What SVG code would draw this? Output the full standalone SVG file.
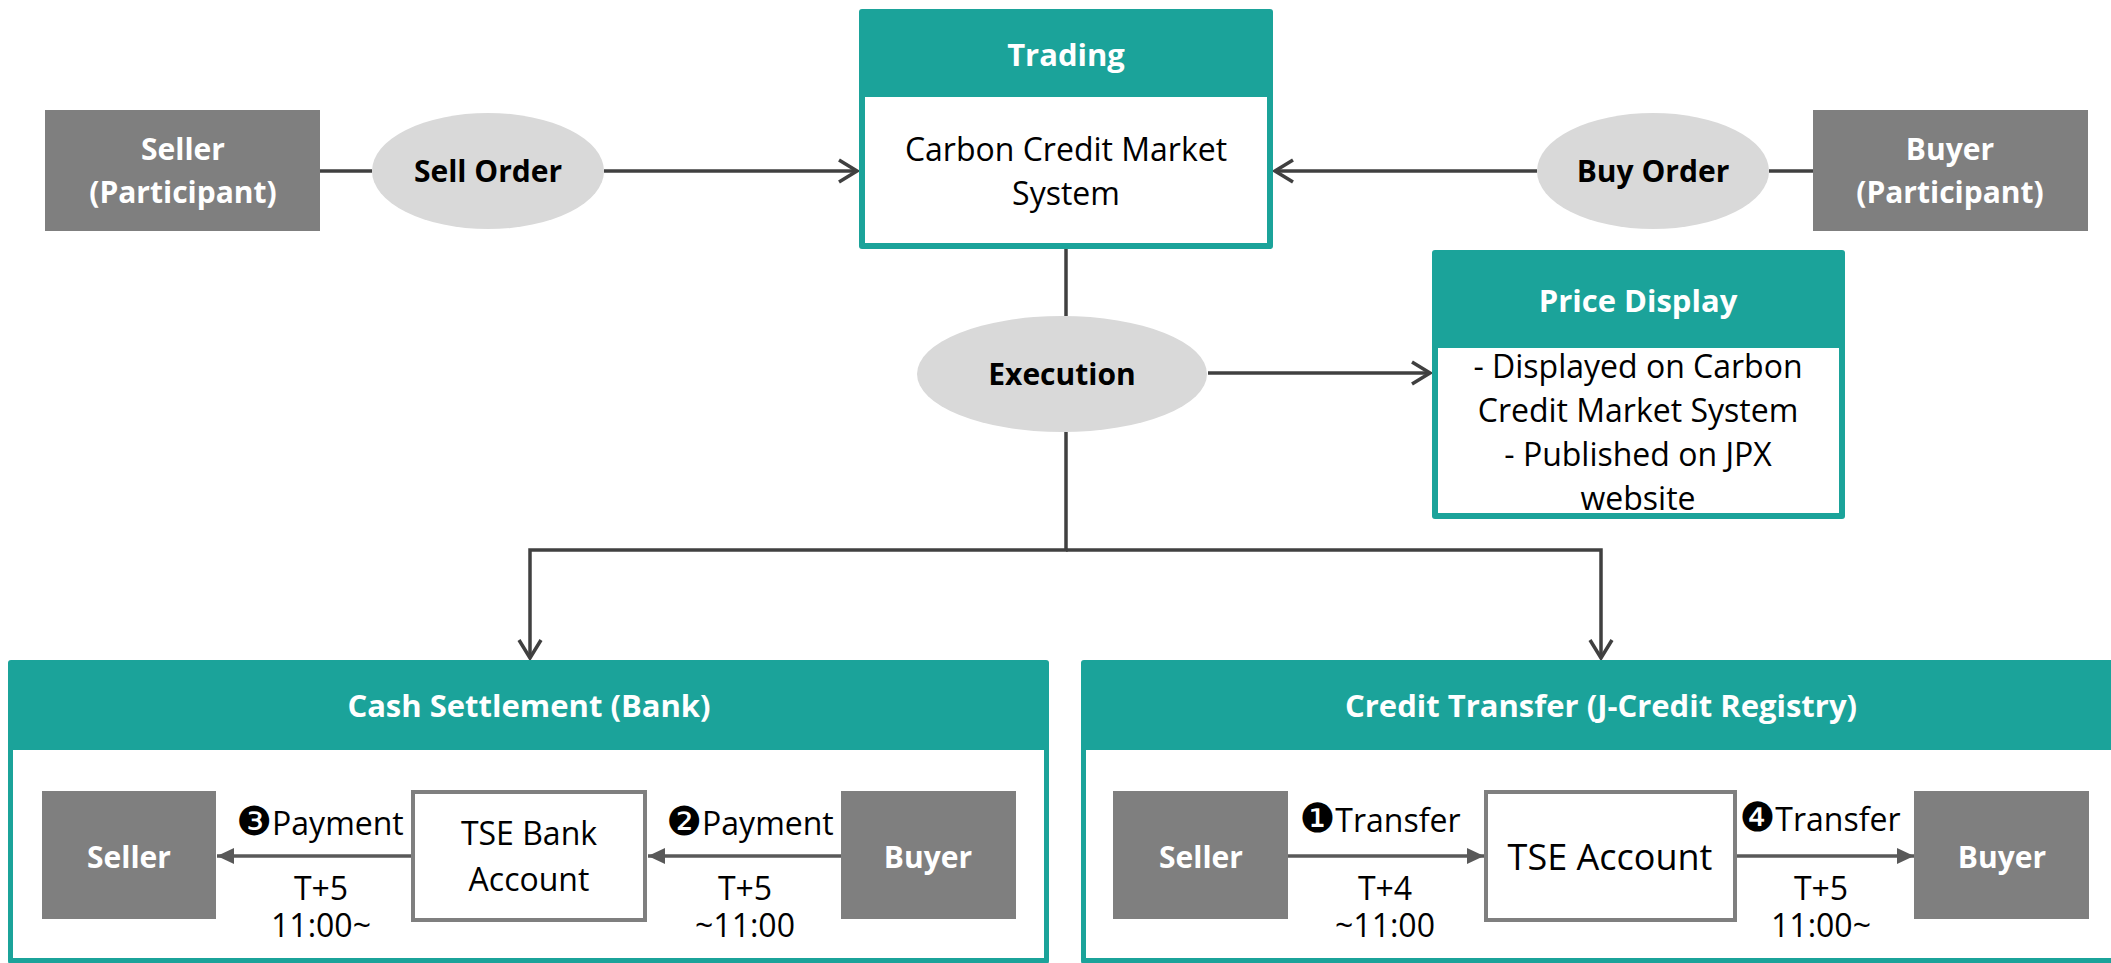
<svg xmlns="http://www.w3.org/2000/svg" width="2111" height="963" viewBox="0 0 2111 963">
<defs>
<style>
text{font-family:"Open Sans","Noto Sans","Liberation Sans",sans-serif;text-anchor:middle}
.b{font-weight:bold;font-size:30px}
.hw{font-weight:bold;font-size:31px;fill:#ffffff}
.w{fill:#ffffff}
.r{font-size:32px;fill:#000000}
.k{fill:#000000}
.teal{fill:#1ba39a}
.inner{fill:#ffffff}
.gbox{fill:#7f7f7f}
.ell{fill:#d9d9d9}
.acct{fill:#ffffff;stroke:#7f7f7f;stroke-width:4}
.con{fill:none;stroke:#404040;stroke-width:3.5}
.sub{fill:none;stroke:#595959;stroke-width:3.5}
.num{font-family:"DejaVu Sans",sans-serif;font-size:40px}
</style>
<marker id="open" markerUnits="userSpaceOnUse" markerWidth="24" markerHeight="26" viewBox="0 0 24 26" refX="21" refY="13" orient="auto">
<path d="M3,2 L21,13 L3,24" fill="none" stroke="#404040" stroke-width="3.5"/>
</marker>
<marker id="tri" markerUnits="userSpaceOnUse" markerWidth="18" markerHeight="18" viewBox="0 0 18 18" refX="17" refY="9" orient="auto">
<path d="M0,1 L17,9 L0,17 Z" fill="#595959"/>
</marker>
</defs>

<g id="connectors">
<line class="con" x1="320" y1="171" x2="372" y2="171"/>
<line class="con" x1="604" y1="171" x2="857" y2="171" marker-end="url(#open)"/>
<line class="con" x1="1813" y1="171" x2="1769" y2="171"/>
<line class="con" x1="1537" y1="171" x2="1275" y2="171" marker-end="url(#open)"/>
<line class="con" x1="1066" y1="249" x2="1066" y2="316"/>
<line class="con" x1="1208" y1="373" x2="1430" y2="373" marker-end="url(#open)"/>
<polyline class="con" points="1066,432 1066,550 530,550 530,658" marker-end="url(#open)"/>
<polyline class="con" points="1066,550 1601,550 1601,658" marker-end="url(#open)"/>
</g>

<g id="seller-participant">
<rect class="gbox" x="45" y="110" width="275" height="121"/>
<text class="b w" x="183" y="160">Seller</text>
<text class="b w" x="183" y="203">(Participant)</text>
</g>

<g id="sell-order">
<ellipse class="ell" cx="488" cy="171" rx="116" ry="58"/>
<text class="b k" x="488" y="182">Sell Order</text>
</g>

<g id="trading">
<rect class="teal" x="859" y="9" width="414" height="240" rx="3"/>
<rect class="inner" x="865" y="97" width="402" height="146"/>
<text class="hw" x="1066" y="66">Trading</text>
<text class="r" x="1066" y="161">Carbon Credit Market</text>
<text class="r" x="1066" y="205">System</text>
</g>

<g id="buy-order">
<ellipse class="ell" cx="1653" cy="171" rx="116" ry="58"/>
<text class="b k" x="1653" y="182">Buy Order</text>
</g>

<g id="buyer-participant">
<rect class="gbox" x="1813" y="110" width="275" height="121"/>
<text class="b w" x="1950" y="160">Buyer</text>
<text class="b w" x="1950" y="203">(Participant)</text>
</g>

<g id="execution">
<ellipse class="ell" cx="1062" cy="374" rx="145" ry="58"/>
<text class="b k" x="1062" y="385">Execution</text>
</g>

<g id="price-display">
<rect class="teal" x="1432" y="250" width="413" height="269" rx="3"/>
<rect class="inner" x="1438" y="348" width="401" height="165"/>
<text class="hw" x="1638" y="312">Price Display</text>
<text class="r" x="1638" y="378">- Displayed on Carbon</text>
<text class="r" x="1638" y="422">Credit Market System</text>
<text class="r" x="1638" y="466">- Published on JPX</text>
<text class="r" x="1638" y="510">website</text>
</g>

<g id="cash-settlement">
<rect class="teal" x="8" y="660" width="1041" height="304" rx="3"/>
<rect class="inner" x="13" y="750" width="1031" height="208"/>
<text class="hw" x="529" y="717">Cash Settlement (Bank)</text>
<g id="cash-seller">
<rect class="gbox" x="42" y="791" width="174" height="128"/>
<text class="b w" x="129" y="868">Seller</text>
</g>
<g id="tse-bank-account">
<rect class="acct" x="413" y="792" width="232" height="128"/>
<text class="r" x="529" y="845">TSE Bank</text>
<text class="r" x="529" y="891">Account</text>
</g>
<g id="cash-buyer">
<rect class="gbox" x="841" y="791" width="175" height="128"/>
<text class="b w" x="928" y="868">Buyer</text>
</g>
<line class="sub" x1="411" y1="856" x2="217" y2="856" marker-end="url(#tri)"/>
<line class="sub" x1="841" y1="856" x2="648" y2="856" marker-end="url(#tri)"/>
<text class="r" x="320" y="835"><tspan class="num">❸</tspan>Payment</text>
<text class="r" x="321" y="900">T+5</text>
<text class="r" x="321" y="937">11:00~</text>
<text class="r" x="750" y="835"><tspan class="num">❷</tspan>Payment</text>
<text class="r" x="745" y="900">T+5</text>
<text class="r" x="745" y="937">~11:00</text>
</g>

<g id="credit-transfer">
<rect class="teal" x="1081" y="660" width="1040" height="304" rx="3"/>
<rect class="inner" x="1086" y="750" width="1040" height="208"/>
<text class="hw" x="1601" y="717">Credit Transfer (J-Credit Registry)</text>
<g id="credit-seller">
<rect class="gbox" x="1113" y="791" width="175" height="128"/>
<text class="b w" x="1201" y="868">Seller</text>
</g>
<g id="tse-account">
<rect class="acct" x="1486" y="792" width="249" height="128"/>
<text class="k" x="1610" y="870" style="font-size:36px">TSE Account</text>
</g>
<g id="credit-buyer">
<rect class="gbox" x="1914" y="791" width="175" height="128"/>
<text class="b w" x="2002" y="868">Buyer</text>
</g>
<line class="sub" x1="1288" y1="856" x2="1484" y2="856" marker-end="url(#tri)"/>
<line class="sub" x1="1737" y1="856" x2="1914" y2="856" marker-end="url(#tri)"/>
<text class="r" x="1380" y="832"><tspan class="num">❶</tspan>Transfer</text>
<text class="r" x="1385" y="900">T+4</text>
<text class="r" x="1385" y="937">~11:00</text>
<text class="r" x="1820" y="831"><tspan class="num">❹</tspan>Transfer</text>
<text class="r" x="1821" y="900">T+5</text>
<text class="r" x="1821" y="937">11:00~</text>
</g>
</svg>
